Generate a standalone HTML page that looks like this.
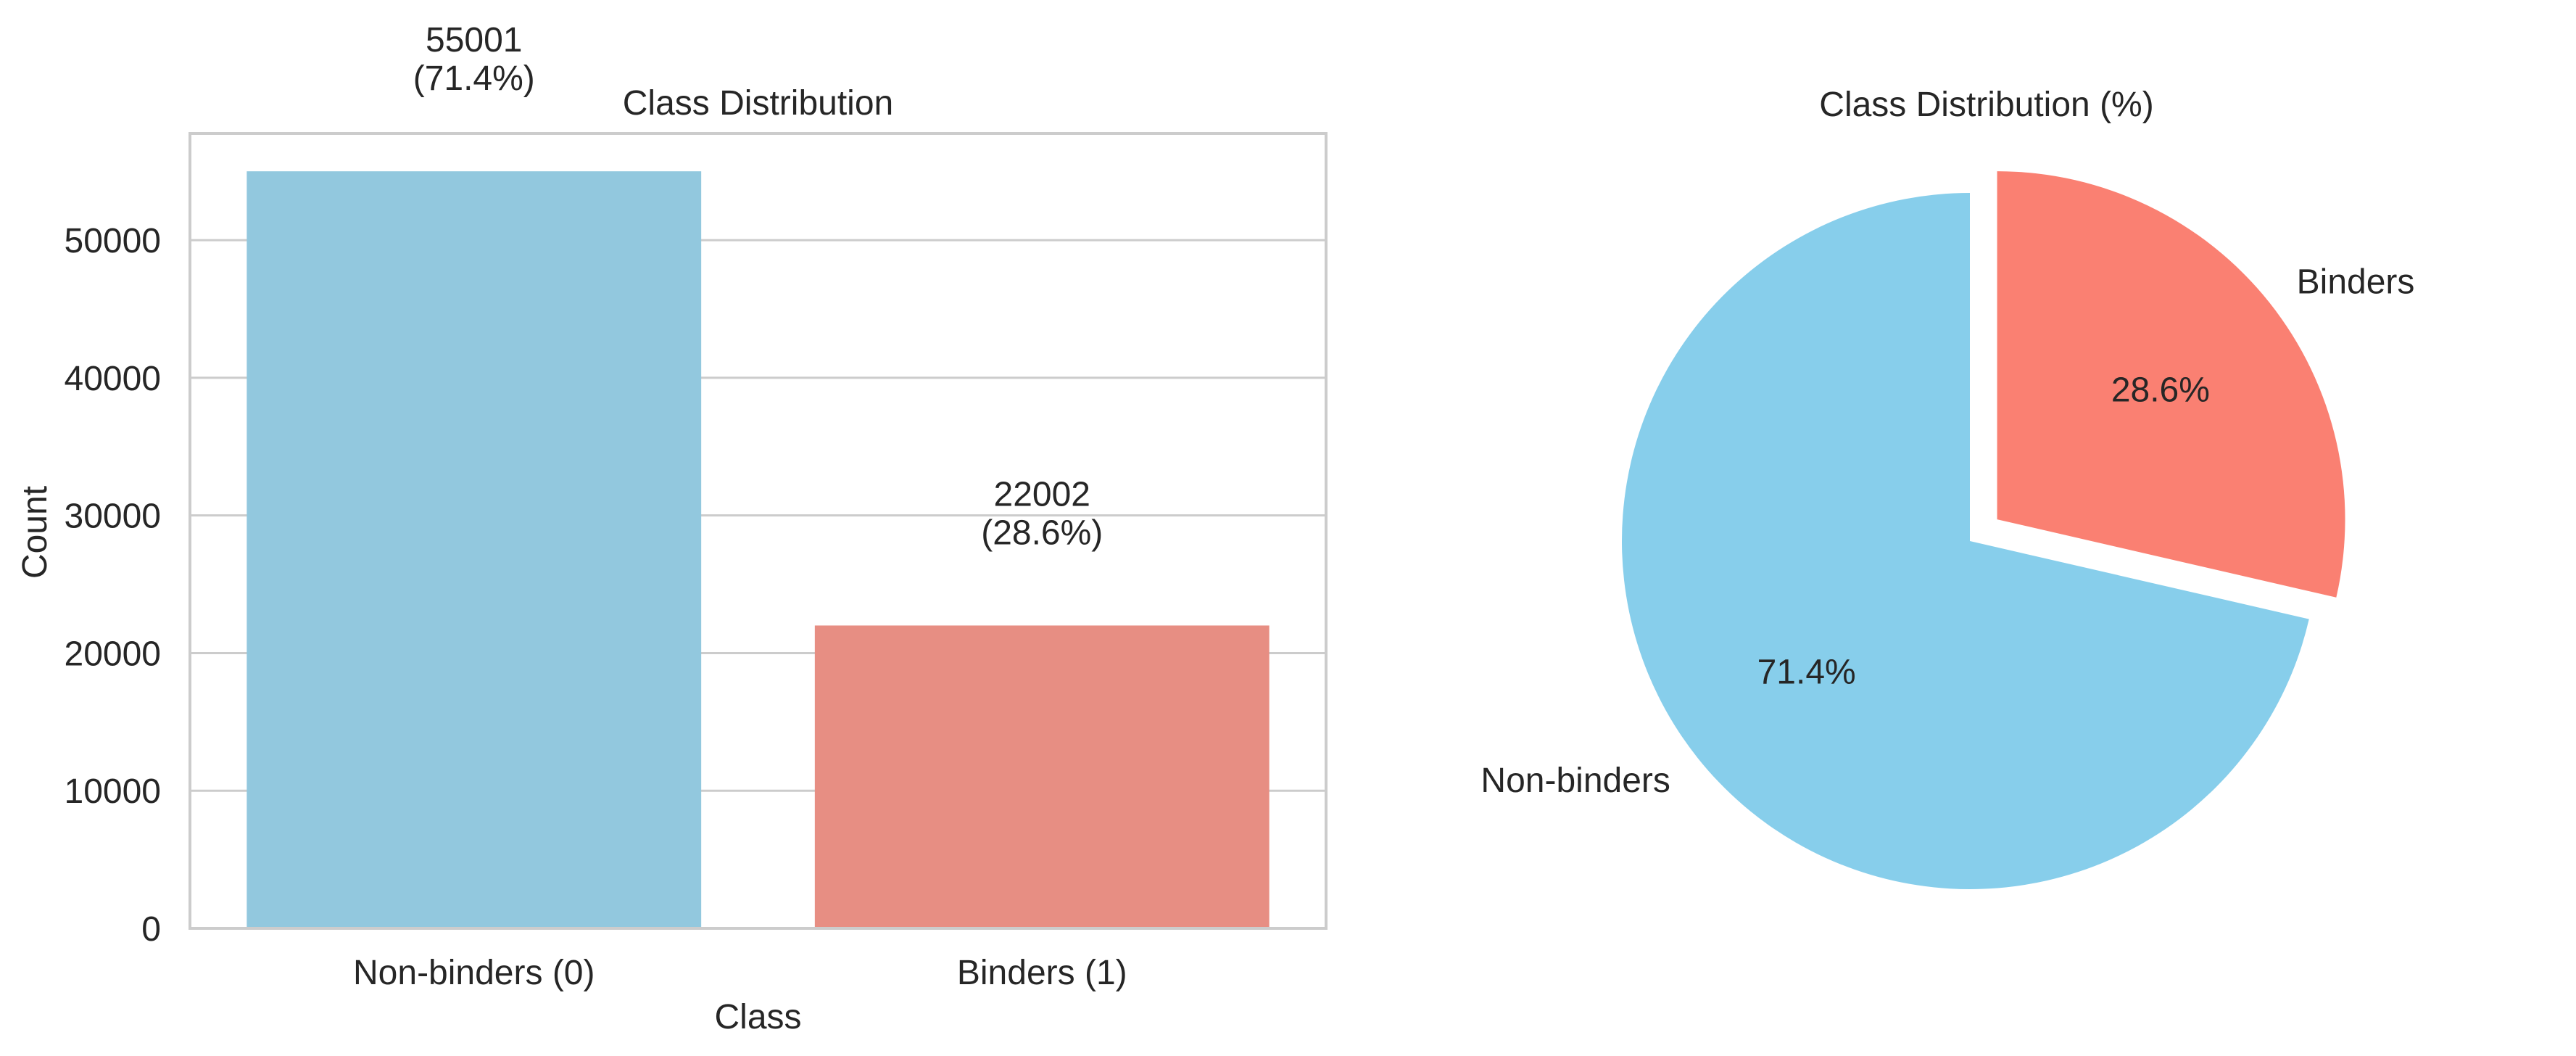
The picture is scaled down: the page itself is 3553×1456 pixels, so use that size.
<!DOCTYPE html>
<html><head><meta charset="utf-8"><style>
html,body{margin:0;padding:0;background:#fff;}
svg{display:block;font-family:"Liberation Sans",Arial,sans-serif;}
</style></head><body>
<svg id="c" width="3553" height="1456" viewBox="0 0 3553 1456"></svg>
<script>
const categories = ["Non-binders (0)", "Binders (1)"];
const counts = [55001, 22002];
const pctLabels = ["(71.4%)", "(28.6%)"];
const yTicks = [0, 10000, 20000, 30000, 40000, 50000];
const barColors = ["#92c8de", "#e78e83"];
const pieLabels = ["Non-binders", "Binders"];
const pieValues = [71.4, 28.6];
const pieColors = ["#87ceeb", "#fa8072"];
const pieExplode = [0, 0.1];

const NS = "http://www.w3.org/2000/svg";
const svg = document.getElementById("c");
function el(tag, attrs, text) {
  const e = document.createElementNS(NS, tag);
  for (const k in attrs) e.setAttribute(k, attrs[k]);
  if (text !== undefined) e.textContent = text;
  svg.appendChild(e);
  return e;
}
const FS = 48, TC = "#262626";

// Bar chart axes
const L = 262, R = 1829, T = 184, B = 1280;
const yMax = 55001 * 1.05;
const y = v => B - v / yMax * (B - T);
const x = i => L + (i + 0.5) / categories.length * (R - L);
const bw = 0.8 * (R - L) / categories.length;

yTicks.forEach(t => {
  if (t > 0) {
    const g = el("line", {x1: L, x2: R, y1: y(t), y2: y(t), stroke: "#cccccc", "stroke-width": 3});
    
    
  }
  const lb = el("text", {x: L - 40, y: y(t) + 17, "text-anchor": "end", "font-size": FS, fill: TC}, String(t));
  
  
});

categories.forEach((c, i) => {
  const r = el("rect", {x: x(i) - bw / 2, y: y(counts[i]), width: bw, height: B - y(counts[i]), fill: barColors[i]});
  
  
  const t1 = el("text", {x: x(i), y: y(counts[i]) - 165, "text-anchor": "middle", "font-size": FS, fill: TC}, String(counts[i]));
  
  
  const t2 = el("text", {x: x(i), y: y(counts[i]) - 112, "text-anchor": "middle", "font-size": FS, fill: TC}, pctLabels[i]);
  
  
  const xl = el("text", {x: x(i), y: 1357, "text-anchor": "middle", "font-size": FS, fill: TC}, c);
  
  
});

const frame = el("rect", {x: L, y: T, width: R - L, height: B - T, fill: "none", stroke: "#cccccc", "stroke-width": 4});



const bt = el("text", {x: (L + R) / 2, y: 158, "text-anchor": "middle", "font-size": FS, fill: TC}, "Class Distribution");


const xt = el("text", {x: (L + R) / 2, y: 1418, "text-anchor": "middle", "font-size": FS, fill: TC}, "Class");


const yt = el("text", {x: 0, y: 0, "text-anchor": "middle", "font-size": FS, fill: TC, transform: "translate(64,734) rotate(-90)"}, "Count");



// Pie
const cx = 2717, cy = 746, rad = 480;
const total = pieValues.reduce((a, b) => a + b, 0);
let ang = 90;
pieValues.forEach((v, i) => {
  const sweep = v / total * 360;
  const a0 = ang, a1 = ang + sweep, mid = (a0 + a1) / 2;
  const mr = mid * Math.PI / 180;
  const ox = cx + pieExplode[i] * rad * Math.cos(mr);
  const oy = cy - pieExplode[i] * rad * Math.sin(mr);
  const p0 = [ox + rad * Math.cos(a0 * Math.PI / 180), oy - rad * Math.sin(a0 * Math.PI / 180)];
  const p1 = [ox + rad * Math.cos(a1 * Math.PI / 180), oy - rad * Math.sin(a1 * Math.PI / 180)];
  const large = sweep > 180 ? 1 : 0;
  const w = el("path", {d: `M${ox},${oy} L${p0[0]},${p0[1]} A${rad},${rad} 0 ${large} 0 ${p1[0]},${p1[1]} Z`, fill: pieColors[i]});
  
  
  const lx = ox + 1.1 * rad * Math.cos(mr), ly = oy - 1.1 * rad * Math.sin(mr);
  const lab = el("text", {x: lx, y: ly + 17, "text-anchor": Math.cos(mr) >= 0 ? "start" : "end", "font-size": FS, fill: TC}, pieLabels[i]);
  
  
  const px = ox + 0.6 * rad * Math.cos(mr), py = oy - 0.6 * rad * Math.sin(mr);
  const pl = el("text", {x: px, y: py + 17, "text-anchor": "middle", "font-size": FS, fill: TC}, v.toFixed(1) + "%");
  
  
  ang = a1;
});
const pt = el("text", {x: 2740, y: 160, "text-anchor": "middle", "font-size": FS, fill: TC}, "Class Distribution (%)");


</script>
</body></html>
